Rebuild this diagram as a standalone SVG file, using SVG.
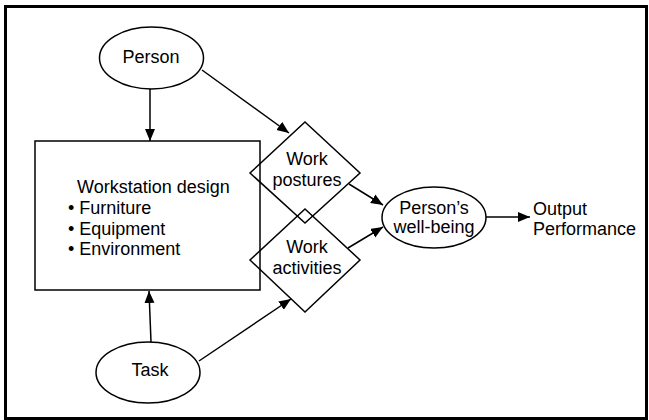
<svg xmlns="http://www.w3.org/2000/svg" width="649" height="420" viewBox="0 0 649 420">
  <style>
    .shape { fill: none; stroke: #000; stroke-width: 1.5; }
    .conn { fill: none; stroke: #000; stroke-width: 1.5; }
    text { font-family: "Liberation Sans", Arial, sans-serif; font-size: 18px; fill: #000; }
    .c { text-anchor: middle; }
  </style>
  <defs>
    <marker id="arrow" markerUnits="userSpaceOnUse" markerWidth="13" markerHeight="11" refX="12" refY="5" orient="auto">
      <path d="M0,0 L12,5 L0,10 Z" fill="#000"/>
    </marker>
  </defs>
  <rect x="0" y="0" width="649" height="420" fill="#fff"/>
  <rect x="5.5" y="6.5" width="641" height="412" fill="none" stroke="#000" stroke-width="3"/>

  <g id="person">
    <ellipse class="shape" cx="151.5" cy="58" rx="52" ry="31"/>
    <text class="c" x="151" y="63">Person</text>
  </g>
  <g id="workstation">
    <rect class="shape" x="35" y="141" width="225" height="149"/>
    <text x="77" y="193">Workstation design</text>
    <text x="68" y="214">• Furniture</text>
    <text x="68" y="235">• Equipment</text>
    <text x="68" y="255">• Environment</text>
  </g>
  <g id="task">
    <ellipse class="shape" cx="148" cy="372.5" rx="52" ry="30.5"/>
    <text class="c" x="150" y="376">Task</text>
  </g>
  <g id="work-postures">
    <path class="shape" d="M305,122 L360,173 L305,223 L250,173 Z"/>
    <text class="c" x="307" y="165">Work</text>
    <text class="c" x="307" y="186">postures</text>
  </g>
  <g id="work-activities">
    <path class="shape" d="M305,209 L360,260 L305,312 L250,260 Z"/>
    <text class="c" x="307" y="253">Work</text>
    <text class="c" x="307" y="274">activities</text>
  </g>
  <g id="wellbeing">
    <ellipse class="shape" cx="434" cy="217.5" rx="52" ry="30.5"/>
    <text class="c" x="434" y="214">Person’s</text>
    <text class="c" x="434" y="233">well-being</text>
  </g>
  <g id="output">
    <text x="533" y="215">Output</text>
    <text x="533" y="235">Performance</text>
  </g>

  <g id="connectors">
    <line class="conn" x1="150" y1="89" x2="150" y2="141" marker-end="url(#arrow)"/>
    <line class="conn" x1="202" y1="70" x2="289" y2="133" marker-end="url(#arrow)"/>
    <line class="conn" x1="151" y1="342" x2="149" y2="291" marker-end="url(#arrow)"/>
    <line class="conn" x1="199" y1="361" x2="291" y2="299" marker-end="url(#arrow)"/>
    <line class="conn" x1="349" y1="184" x2="383" y2="205" marker-end="url(#arrow)"/>
    <line class="conn" x1="348" y1="248" x2="383" y2="227" marker-end="url(#arrow)"/>
    <line class="conn" x1="486" y1="217" x2="530" y2="217" marker-end="url(#arrow)"/>
  </g>
</svg>
